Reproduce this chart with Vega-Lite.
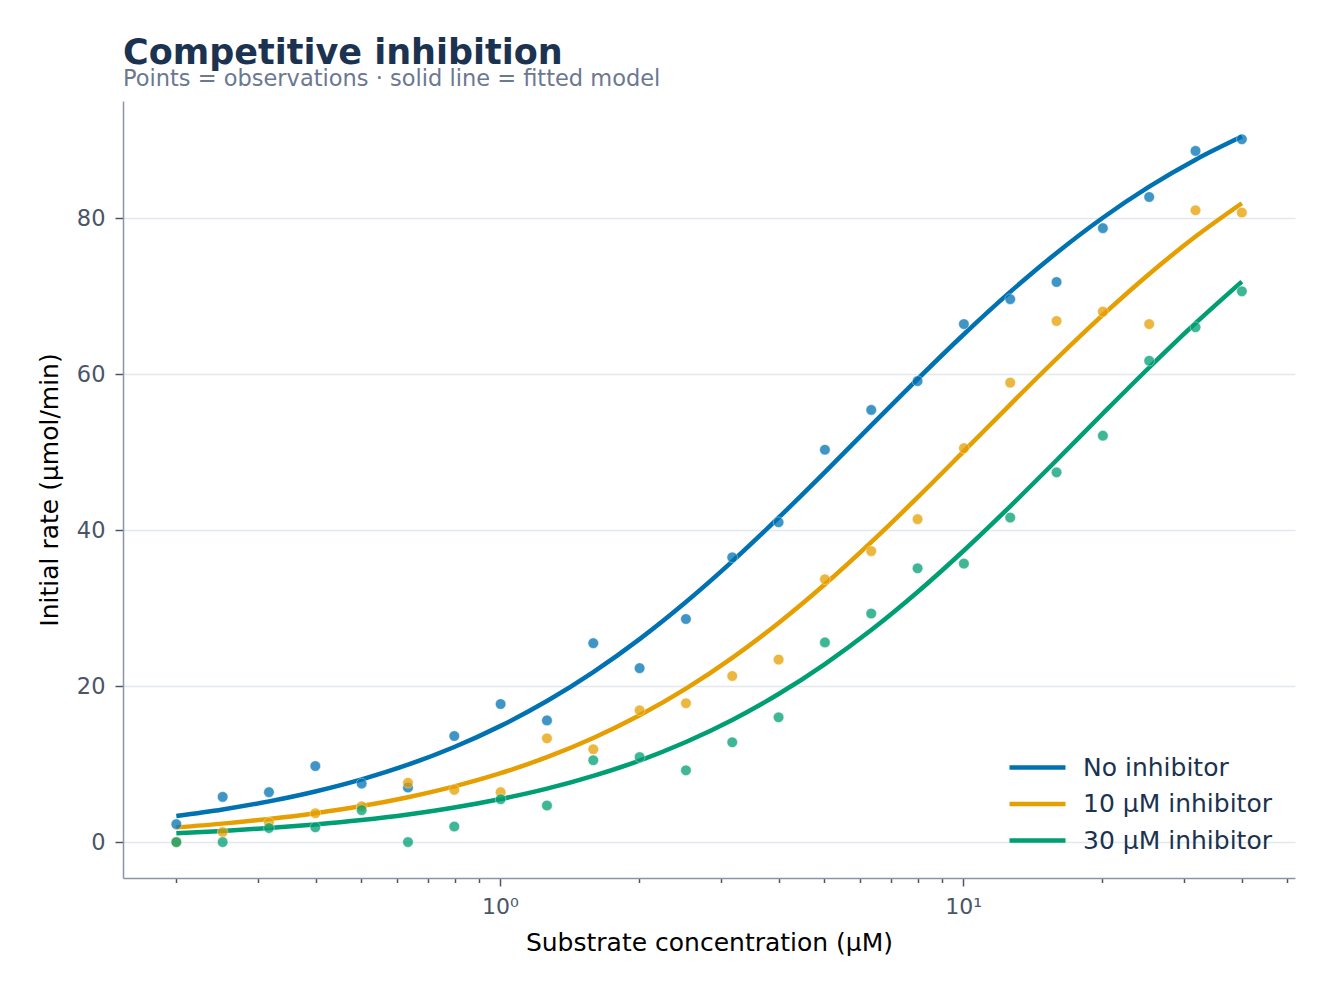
{
  "$schema": "https://vega.github.io/schema/vega-lite/v6.json",
  "width": 1172,
  "height": 777,
  "autosize": {"type": "none"},
  "padding": {"left": 123, "top": 101, "right": 39, "bottom": 118},
  "config": {
    "font": "DejaVu Sans",
    "view": {"stroke": null},
    "axis": {
      "domainColor": "#8a94a6",
      "domainWidth": 1.5,
      "tickColor": "#4a5568",
      "tickWidth": 1.5,
      "labelColor": "#4a5568",
      "labelFontSize": 22,
      "titleColor": "#000000",
      "titleFontSize": 25,
      "titleFontWeight": "normal"
    }
  },
  "title": {
    "text": "Competitive inhibition",
    "subtitle": "Points = observations · solid line = fitted model",
    "anchor": "start",
    "frame": "group",
    "fontSize": 35,
    "fontWeight": "bold",
    "color": "#1b3350",
    "subtitleFontSize": 22.5,
    "subtitleColor": "#6b7890",
    "subtitlePadding": -3,
    "offset": 11
  },
  "datasets": {
    "fit": [
      {"S": 0.2, "v": 3.36, "series": "No inhibitor"},
      {"S": 0.2518, "v": 4.19, "series": "No inhibitor"},
      {"S": 0.317, "v": 5.22, "series": "No inhibitor"},
      {"S": 0.3992, "v": 6.49, "series": "No inhibitor"},
      {"S": 0.5026, "v": 8.04, "series": "No inhibitor"},
      {"S": 0.6328, "v": 9.92, "series": "No inhibitor"},
      {"S": 0.7967, "v": 12.19, "series": "No inhibitor"},
      {"S": 1.0031, "v": 14.9, "series": "No inhibitor"},
      {"S": 1.263, "v": 18.08, "series": "No inhibitor"},
      {"S": 1.5901, "v": 21.79, "series": "No inhibitor"},
      {"S": 2.0021, "v": 26.02, "series": "No inhibitor"},
      {"S": 2.5207, "v": 30.77, "series": "No inhibitor"},
      {"S": 3.1737, "v": 35.98, "series": "No inhibitor"},
      {"S": 3.9959, "v": 41.58, "series": "No inhibitor"},
      {"S": 5.0311, "v": 47.43, "series": "No inhibitor"},
      {"S": 6.3344, "v": 53.41, "series": "No inhibitor"},
      {"S": 7.9754, "v": 59.35, "series": "No inhibitor"},
      {"S": 10.0415, "v": 65.1, "series": "No inhibitor"},
      {"S": 12.6429, "v": 70.53, "series": "No inhibitor"},
      {"S": 15.9181, "v": 75.53, "series": "No inhibitor"},
      {"S": 20.0417, "v": 80.04, "series": "No inhibitor"},
      {"S": 25.2337, "v": 84.02, "series": "No inhibitor"},
      {"S": 31.7708, "v": 87.48, "series": "No inhibitor"},
      {"S": 40.0, "v": 90.44, "series": "No inhibitor"},
      {"S": 0.2, "v": 1.89, "series": "10 μM inhibitor"},
      {"S": 0.2518, "v": 2.37, "series": "10 μM inhibitor"},
      {"S": 0.317, "v": 2.97, "series": "10 μM inhibitor"},
      {"S": 0.3992, "v": 3.71, "series": "10 μM inhibitor"},
      {"S": 0.5026, "v": 4.62, "series": "10 μM inhibitor"},
      {"S": 0.6328, "v": 5.76, "series": "10 μM inhibitor"},
      {"S": 0.7967, "v": 7.15, "series": "10 μM inhibitor"},
      {"S": 1.0031, "v": 8.84, "series": "10 μM inhibitor"},
      {"S": 1.263, "v": 10.89, "series": "10 μM inhibitor"},
      {"S": 1.5901, "v": 13.35, "series": "10 μM inhibitor"},
      {"S": 2.0021, "v": 16.26, "series": "10 μM inhibitor"},
      {"S": 2.5207, "v": 19.68, "series": "10 μM inhibitor"},
      {"S": 3.1737, "v": 23.62, "series": "10 μM inhibitor"},
      {"S": 3.9959, "v": 28.09, "series": "10 μM inhibitor"},
      {"S": 5.0311, "v": 33.05, "series": "10 μM inhibitor"},
      {"S": 6.3344, "v": 38.45, "series": "10 μM inhibitor"},
      {"S": 7.9754, "v": 44.18, "series": "10 μM inhibitor"},
      {"S": 10.0415, "v": 50.11, "series": "10 μM inhibitor"},
      {"S": 12.6429, "v": 56.09, "series": "10 μM inhibitor"},
      {"S": 15.9181, "v": 61.96, "series": "10 μM inhibitor"},
      {"S": 20.0417, "v": 67.58, "series": "10 μM inhibitor"},
      {"S": 25.2337, "v": 72.83, "series": "10 μM inhibitor"},
      {"S": 31.7708, "v": 77.62, "series": "10 μM inhibitor"},
      {"S": 40.0, "v": 81.89, "series": "10 μM inhibitor"},
      {"S": 0.2, "v": 1.15, "series": "30 μM inhibitor"},
      {"S": 0.2518, "v": 1.44, "series": "30 μM inhibitor"},
      {"S": 0.317, "v": 1.81, "series": "30 μM inhibitor"},
      {"S": 0.3992, "v": 2.27, "series": "30 μM inhibitor"},
      {"S": 0.5026, "v": 2.84, "series": "30 μM inhibitor"},
      {"S": 0.6328, "v": 3.55, "series": "30 μM inhibitor"},
      {"S": 0.7967, "v": 4.43, "series": "30 μM inhibitor"},
      {"S": 1.0031, "v": 5.52, "series": "30 μM inhibitor"},
      {"S": 1.263, "v": 6.85, "series": "30 μM inhibitor"},
      {"S": 1.5901, "v": 8.49, "series": "30 μM inhibitor"},
      {"S": 2.0021, "v": 10.46, "series": "30 μM inhibitor"},
      {"S": 2.5207, "v": 12.84, "series": "30 μM inhibitor"},
      {"S": 3.1737, "v": 15.66, "series": "30 μM inhibitor"},
      {"S": 3.9959, "v": 18.98, "series": "30 μM inhibitor"},
      {"S": 5.0311, "v": 22.82, "series": "30 μM inhibitor"},
      {"S": 6.3344, "v": 27.18, "series": "30 μM inhibitor"},
      {"S": 7.9754, "v": 32.06, "series": "30 μM inhibitor"},
      {"S": 10.0415, "v": 37.38, "series": "30 μM inhibitor"},
      {"S": 12.6429, "v": 43.05, "series": "30 μM inhibitor"},
      {"S": 15.9181, "v": 48.95, "series": "30 μM inhibitor"},
      {"S": 20.0417, "v": 54.94, "series": "30 μM inhibitor"},
      {"S": 25.2337, "v": 60.84, "series": "30 μM inhibitor"},
      {"S": 31.7708, "v": 66.52, "series": "30 μM inhibitor"},
      {"S": 40.0, "v": 71.85, "series": "30 μM inhibitor"}
    ],
    "obs": [
      {"S": 0.2, "v": 2.3, "series": "No inhibitor"},
      {"S": 0.2518, "v": 5.8, "series": "No inhibitor"},
      {"S": 0.317, "v": 6.4, "series": "No inhibitor"},
      {"S": 0.3992, "v": 9.75, "series": "No inhibitor"},
      {"S": 0.5026, "v": 7.5, "series": "No inhibitor"},
      {"S": 0.6328, "v": 7.0, "series": "No inhibitor"},
      {"S": 0.7967, "v": 13.6, "series": "No inhibitor"},
      {"S": 1.0031, "v": 17.7, "series": "No inhibitor"},
      {"S": 1.263, "v": 15.6, "series": "No inhibitor"},
      {"S": 1.5901, "v": 25.5, "series": "No inhibitor"},
      {"S": 2.0021, "v": 22.3, "series": "No inhibitor"},
      {"S": 2.5207, "v": 28.6, "series": "No inhibitor"},
      {"S": 3.1737, "v": 36.5, "series": "No inhibitor"},
      {"S": 3.9959, "v": 41.0, "series": "No inhibitor"},
      {"S": 5.0311, "v": 50.3, "series": "No inhibitor"},
      {"S": 6.3344, "v": 55.4, "series": "No inhibitor"},
      {"S": 7.9754, "v": 59.1, "series": "No inhibitor"},
      {"S": 10.0415, "v": 66.4, "series": "No inhibitor"},
      {"S": 12.6429, "v": 69.6, "series": "No inhibitor"},
      {"S": 15.9181, "v": 71.8, "series": "No inhibitor"},
      {"S": 20.0417, "v": 78.7, "series": "No inhibitor"},
      {"S": 25.2337, "v": 82.7, "series": "No inhibitor"},
      {"S": 31.7708, "v": 88.6, "series": "No inhibitor"},
      {"S": 40.0, "v": 90.1, "series": "No inhibitor"},
      {"S": 0.2, "v": 0.0, "series": "10 μM inhibitor"},
      {"S": 0.2518, "v": 1.3, "series": "10 μM inhibitor"},
      {"S": 0.317, "v": 2.5, "series": "10 μM inhibitor"},
      {"S": 0.3992, "v": 3.7, "series": "10 μM inhibitor"},
      {"S": 0.5026, "v": 4.6, "series": "10 μM inhibitor"},
      {"S": 0.6328, "v": 7.6, "series": "10 μM inhibitor"},
      {"S": 0.7967, "v": 6.7, "series": "10 μM inhibitor"},
      {"S": 1.0031, "v": 6.4, "series": "10 μM inhibitor"},
      {"S": 1.263, "v": 13.3, "series": "10 μM inhibitor"},
      {"S": 1.5901, "v": 11.9, "series": "10 μM inhibitor"},
      {"S": 2.0021, "v": 16.9, "series": "10 μM inhibitor"},
      {"S": 2.5207, "v": 17.8, "series": "10 μM inhibitor"},
      {"S": 3.1737, "v": 21.3, "series": "10 μM inhibitor"},
      {"S": 3.9959, "v": 23.4, "series": "10 μM inhibitor"},
      {"S": 5.0311, "v": 33.7, "series": "10 μM inhibitor"},
      {"S": 6.3344, "v": 37.3, "series": "10 μM inhibitor"},
      {"S": 7.9754, "v": 41.4, "series": "10 μM inhibitor"},
      {"S": 10.0415, "v": 50.5, "series": "10 μM inhibitor"},
      {"S": 12.6429, "v": 58.9, "series": "10 μM inhibitor"},
      {"S": 15.9181, "v": 66.8, "series": "10 μM inhibitor"},
      {"S": 20.0417, "v": 68.0, "series": "10 μM inhibitor"},
      {"S": 25.2337, "v": 66.4, "series": "10 μM inhibitor"},
      {"S": 31.7708, "v": 81.0, "series": "10 μM inhibitor"},
      {"S": 40.0, "v": 80.7, "series": "10 μM inhibitor"},
      {"S": 0.2, "v": 0.0, "series": "30 μM inhibitor"},
      {"S": 0.2518, "v": 0.0, "series": "30 μM inhibitor"},
      {"S": 0.317, "v": 1.8, "series": "30 μM inhibitor"},
      {"S": 0.3992, "v": 1.9, "series": "30 μM inhibitor"},
      {"S": 0.5026, "v": 4.1, "series": "30 μM inhibitor"},
      {"S": 0.6328, "v": 0.0, "series": "30 μM inhibitor"},
      {"S": 0.7967, "v": 2.0, "series": "30 μM inhibitor"},
      {"S": 1.0031, "v": 5.5, "series": "30 μM inhibitor"},
      {"S": 1.263, "v": 4.7, "series": "30 μM inhibitor"},
      {"S": 1.5901, "v": 10.5, "series": "30 μM inhibitor"},
      {"S": 2.0021, "v": 10.9, "series": "30 μM inhibitor"},
      {"S": 2.5207, "v": 9.2, "series": "30 μM inhibitor"},
      {"S": 3.1737, "v": 12.8, "series": "30 μM inhibitor"},
      {"S": 3.9959, "v": 16.0, "series": "30 μM inhibitor"},
      {"S": 5.0311, "v": 25.6, "series": "30 μM inhibitor"},
      {"S": 6.3344, "v": 29.3, "series": "30 μM inhibitor"},
      {"S": 7.9754, "v": 35.1, "series": "30 μM inhibitor"},
      {"S": 10.0415, "v": 35.7, "series": "30 μM inhibitor"},
      {"S": 12.6429, "v": 41.6, "series": "30 μM inhibitor"},
      {"S": 15.9181, "v": 47.4, "series": "30 μM inhibitor"},
      {"S": 20.0417, "v": 52.1, "series": "30 μM inhibitor"},
      {"S": 25.2337, "v": 61.7, "series": "30 μM inhibitor"},
      {"S": 31.7708, "v": 66.0, "series": "30 μM inhibitor"},
      {"S": 40.0, "v": 70.6, "series": "30 μM inhibitor"}
    ]
  },
  "encoding": {
    "x": {
      "field": "S",
      "type": "quantitative",
      "title": "Substrate concentration (μM)",
      "scale": {"type": "log", "domain": [0.1534, 52.1], "nice": false},
      "axis": {
        "values": [0.2, 0.3, 0.4, 0.5, 0.6, 0.7, 0.8, 0.9, 1, 2, 3, 4, 5, 6, 7, 8, 9, 10, 20, 30, 40, 50],
        "labelExpr": "datum.value == 1 ? '10⁰' : datum.value == 10 ? '10¹' : ''",
        "tickSize": {"condition": {"test": "datum.value == 1 || datum.value == 10", "value": 8}, "value": 4.5},
        "grid": false,
        "labelPadding": 10,
        "labelFlush": false,
        "labelOverlap": false,
        "titlePadding": 13
      }
    },
    "y": {
      "field": "v",
      "type": "quantitative",
      "title": "Initial rate (μmol/min)",
      "scale": {"domain": [-4.6, 95], "nice": false, "zero": false},
      "axis": {
        "values": [0, 20, 40, 60, 80],
        "tickSize": 8,
        "labelPadding": 10,
        "labelFontSize": 22.5,
        "titlePadding": 14,
        "grid": true,
        "gridColor": "#e3e8ee",
        "gridWidth": 1.3
      }
    }
  },
  "layer": [
    {
      "data": {"name": "fit"},
      "mark": {"type": "line", "strokeWidth": 4.5, "interpolate": "monotone"},
      "encoding": {
        "stroke": {
          "field": "series",
          "type": "nominal",
          "sort": null,
          "scale": {
            "domain": ["No inhibitor", "10 μM inhibitor", "30 μM inhibitor"],
            "range": ["#0072B2", "#E69F00", "#009E73"]
          },
          "legend": {
            "title": null,
            "orient": "none",
            "legendX": 902,
            "legendY": 654,
            "symbolType": "M-5.6,0H5.6",
            "symbolSize": 100,
            "symbolStrokeWidth": 4.5,
            "labelFontSize": 25,
            "labelColor": "#1b3350",
            "labelOffset": 33,
            "labelLimit": 0,
            "rowPadding": 10.5
          }
        }
      }
    },
    {
      "data": {"name": "obs"},
      "mark": {"type": "circle", "size": 113, "opacity": 0.75, "stroke": "#ffffff", "strokeWidth": 0.5},
      "encoding": {
        "fill": {
          "field": "series",
          "type": "nominal",
          "scale": {
            "domain": ["No inhibitor", "10 μM inhibitor", "30 μM inhibitor"],
            "range": ["#0072B2", "#E69F00", "#009E73"]
          },
          "legend": null
        }
      }
    }
  ]
}
